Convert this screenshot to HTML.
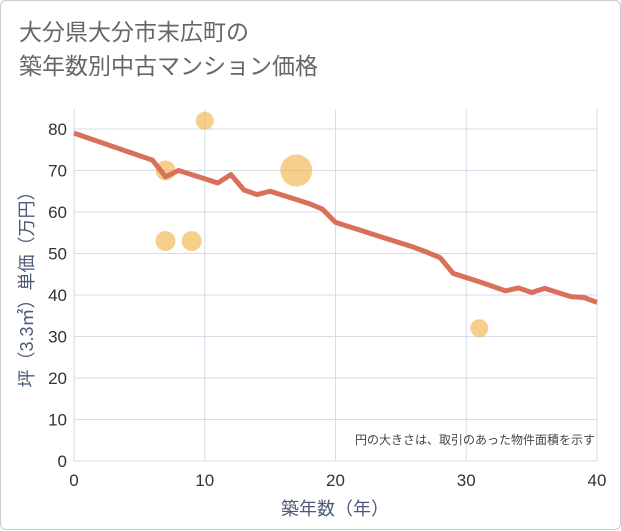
<!DOCTYPE html>
<html><head><meta charset="utf-8"><style>
body{margin:0;background:#fff;font-family:"Liberation Sans","Noto Sans CJK JP",sans-serif;}
.card{position:absolute;left:0;top:0;width:619px;height:528px;border:1px solid #ccc;border-radius:6px;background:#fff;}
.title{position:absolute;left:18px;top:14px;font-size:23px;line-height:34px;color:#666;}
</style></head><body>
<div class="card">
<div class="title">大分県大分市末広町の<br>築年数別中古マンション価格</div>
<svg id="c" width="621" height="530" style="position:absolute;left:0;top:0"></svg>
</div>
<script>
const xTicks=[0,10,20,30,40];
const yTicks=[0,10,20,30,40,50,60,70,80];
const lineX=[0,6,7,8,9,10,11,12,13,14,15,16,17,18,19,20,21,22,23,24,25,26,27,28,29,30,31,32,33,34,35,36,37,38,39,40];
const lineY=[79,72.5,68.5,70,69,68,67,69,65.3,64.2,65,64,63,62,60.7,57.5,56.5,55.5,54.5,53.5,52.5,51.5,50.3,49,45.2,44.2,43.2,42.1,41,41.7,40.6,41.6,40.6,39.6,39.4,38.2];
const bubX=[7,7,9,10,17,31];
const bubY=[70,53,53,82,70,32];
const bubR=[10,10,10,9,16,9];
const svg=document.getElementById('c');const NS='http://www.w3.org/2000/svg';
const X=v=>73+v*(596-73)/40, Y=v=>460-v*4.15;
function mk(t,a,txt){const e=document.createElementNS(NS,t);for(const k in a)e.setAttribute(k,a[k]);if(txt!=null)e.textContent=txt;svg.appendChild(e);return e;}
mk('rect',{x:73,y:108,width:523,height:352,fill:'#fff'});
yTicks.forEach(v=>{const g=mk('line',{x1:73,x2:596,y1:Y(v),y2:Y(v),stroke:'#d6dde8','stroke-width':1});


const t=mk('text',{x:66,y:Y(v)+6,'text-anchor':'end','font-size':17,fill:'#333'},v);

});
xTicks.forEach(v=>{const g=mk('line',{x1:X(v),x2:X(v),y1:108,y2:460,stroke:'#d6dde8','stroke-width':1});


const t=mk('text',{x:X(v),y:485,'text-anchor':'middle','font-size':17,fill:'#333'},v);

});
bubX.forEach((v,i)=>{const c=mk('circle',{cx:X(v),cy:Y(bubY[i]),r:bubR[i],fill:'#f0a830','fill-opacity':0.55});

});
const p=mk('polyline',{points:lineX.map((v,i)=>X(v)+','+Y(lineY[i])).join(' '),fill:'none',stroke:'#d9705a','stroke-width':5,'stroke-linejoin':'round'});


const xt=mk('text',{x:334,y:514,'text-anchor':'middle','font-size':18,fill:'#4a5a78'},'築年数（年）');


const yt=mk('text',{x:0,y:0,'text-anchor':'middle','font-size':18,fill:'#4a5a78',transform:'translate(32,284) rotate(-90)'},'坪（3.3㎡）単価（万円）');


const n=mk('text',{x:594,y:443,'text-anchor':'end','font-size':12,fill:'#444'},'円の大きさは、取引のあった物件面積を示す');


</script>
</body></html>
